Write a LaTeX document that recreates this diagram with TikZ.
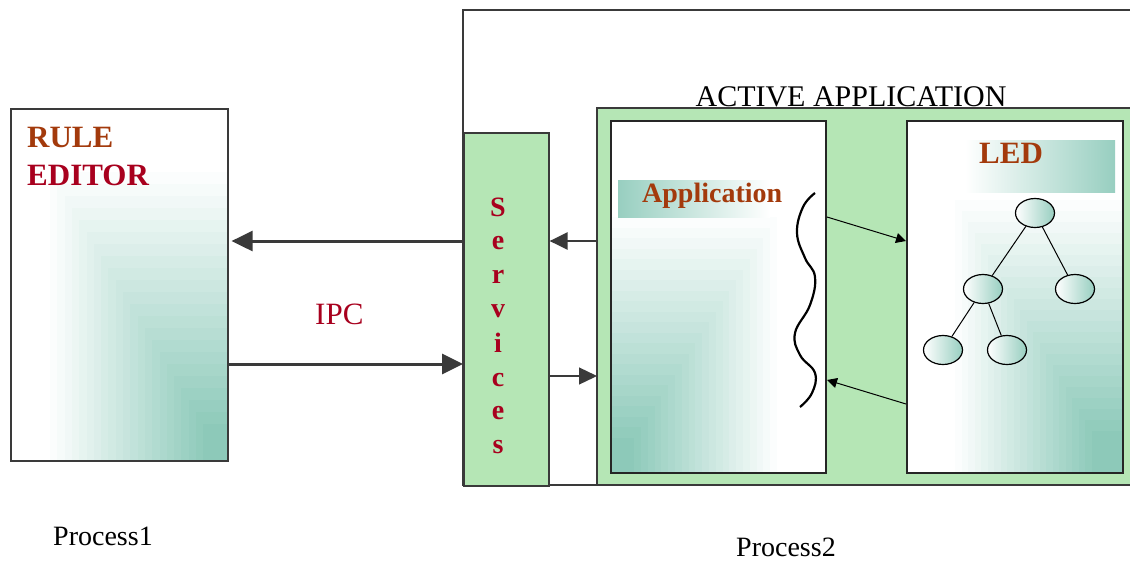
\documentclass[tikz,border=0pt]{standalone}
\usepackage{fontspec}
\setmainfont{Liberation Serif}
\usetikzlibrary{arrows.meta,shapes.geometric}
\definecolor{tealc}{HTML}{8CC9B9}
\definecolor{greenc}{HTML}{B5E6B5}
\definecolor{brownc}{HTML}{A33A0C}
\definecolor{crimc}{HTML}{A8001E}
\definecolor{linec}{HTML}{3A3A3A}
\newcommand{\fsz}[1]{\fontsize{#1}{#1}\selectfont}
\tikzset{
  frame/.style={draw=linec, line width=1.6pt},
  innerbox/.style={draw=black!85, line width=2pt, inner sep=0pt, anchor=north west},
  bigarrow/.style={draw=linec, line width=3pt, -{Triangle[length=21pt,width=20pt]}},
  midarrow/.style={draw=linec, line width=2.5pt, -{Triangle[length=18pt,width=17pt]}},
  thinarrow/.style={draw=linec, line width=1.3pt, -{Triangle[length=18pt,width=17pt]}},
  tinyarrow/.style={draw=black, line width=1pt, -{Triangle[length=10pt,width=10pt]}},
  treenode/.style={ellipse, draw=black, line width=1.2pt, minimum width=39pt, minimum height=29pt, inner sep=0pt, left color=white, middle color=white, right color=tealc!90},
  lbl/.style={inner sep=0pt, anchor=base west},
}
\begin{document}
\begin{tikzpicture}[x=1pt,y=-1pt]
\useasboundingbox (0,0) rectangle (1130,560);
\clip (0,0) rectangle (1130,560);
\fill[white] (0,0) rectangle (1130,560);

% Process2 outer container
\draw[frame, fill=white] (463,10) rectangle (1140,485);
% Active application container
\draw[frame, fill=greenc] (597,108) rectangle (1140,485);
% Services box
\node[frame, fill=greenc, inner sep=0pt, anchor=north west, minimum width=85pt, minimum height=353pt] (svc) at (463,132) {};

% ---------- gradients ----------
% Rule editor
\foreach \i in {0,...,21}{
  \pgfmathsetmacro\xa{50+\i*7.3}
  \pgfmathsetmacro\ya{172+\i*12}
  \pgfmathsetmacro\cc{3+\i*4.6}
  \fill[tealc!\cc!white] (\xa,\ya) rectangle (227,460);
}
% Application
\fill[white] (610,120) rectangle (825,472);
\foreach \i in {0,...,21}{
  \pgfmathsetmacro\xa{777-\i*6.8}
  \pgfmathsetmacro\ya{217+\i*10.5}
  \pgfmathsetmacro\cc{3+\i*4.6}
  \fill[tealc!\cc!white] (610,\ya) rectangle (\xa,472);
}
\shade[left color=tealc!90, right color=white] (618,180) rectangle (770,217);
% LED
\fill[white] (906,120) rectangle (1122,472);
\foreach \i in {0,...,21}{
  \pgfmathsetmacro\xa{955+\i*6.5}
  \pgfmathsetmacro\ya{200+\i*11}
  \pgfmathsetmacro\cc{3+\i*4.6}
  \fill[tealc!\cc!white] (\xa,\ya) rectangle (1122,472);
}
\shade[left color=white, right color=tealc!90] (965,140) rectangle (1115,192);

% ---------- boxes ----------
\node[innerbox, draw=linec, line width=1.6pt, minimum width=217pt, minimum height=352pt] (re) at (10,108) {};
\node[innerbox, minimum width=215pt, minimum height=352pt] (app) at (610,120) {};
\node[innerbox, minimum width=216pt, minimum height=352pt] (led) at (906,120) {};

% ---------- texts ----------
\node[lbl, text=brownc, font=\fsz{31}\bfseries] (rule) at (27,147) {RULE};
\node[lbl, text=crimc, font=\fsz{31}\bfseries] (editor) at (27,185) {EDITOR};
\node[lbl, text=crimc, font=\fsz{31}] (ipc) at (315,324) {IPC};
\node[inner sep=0pt, anchor=base, font=\fsz{30}] (active) at (851,106) {ACTIVE APPLICATION};
\node[lbl, text=brownc, font=\fsz{28}\bfseries] (apptxt) at (642,202) {Application};
\node[lbl, text=brownc, font=\fsz{31}\bfseries] (ledtxt) at (979,163) {LED};
\node[inner sep=0pt, anchor=base, font=\fsz{28}] (p1) at (103,545) {Process1};
\node[inner sep=0pt, anchor=base, font=\fsz{28}] (p2) at (786,556) {Process2};
\foreach \l/\yy [count=\k] in {S/216,e/249,r/283,v/317,i/352,c/386,e/419,s/453}{
  \node[inner sep=0pt, anchor=base, text=crimc, font=\fsz{28}\bfseries] (s\k) at (498,\yy) {\l};
}

% ---------- IPC arrows ----------
\draw[bigarrow, shorten >=3pt] (svc.west |- 0,241) -- (re.east |- 0,241);
\draw[bigarrow] (re.east |- 0,364) -- (svc.west |- 0,364);
\coordinate (gL) at (597,241);
\coordinate (gL2) at (597,376);
\draw[midarrow] (gL) -- (svc.east |- 0,241);
\draw[thinarrow] (svc.east |- 0,376) -- (gL2);

% ---------- wave ----------
\draw[line width=2.2pt, black] plot[smooth, tension=0.7] coordinates {(815,193) (803,207) (797,233) (805,258) (815,277) (810,305) (795,333) (800,355) (815,373) (812,393) (800,407)};

% ---------- app <-> LED ----------
\draw[tinyarrow] (app.east |- 0,217) -- (led.west |- 0,241);
\draw[tinyarrow] (led.west |- 0,404) -- (app.east |- 0,380);

% ---------- tree ----------
\node[treenode] (t0) at (1035,213) {};
\node[treenode] (t1) at (983,289) {};
\node[treenode] (t2) at (1075,289) {};
\node[treenode] (t3) at (943,350) {};
\node[treenode] (t4) at (1007,350) {};
\draw[line width=1pt] (t0) -- (t1);
\draw[line width=1pt] (t0) -- (t2);
\draw[line width=1pt] (t1) -- (t3);
\draw[line width=1pt] (t1) -- (t4);
\end{tikzpicture}
\end{document}
